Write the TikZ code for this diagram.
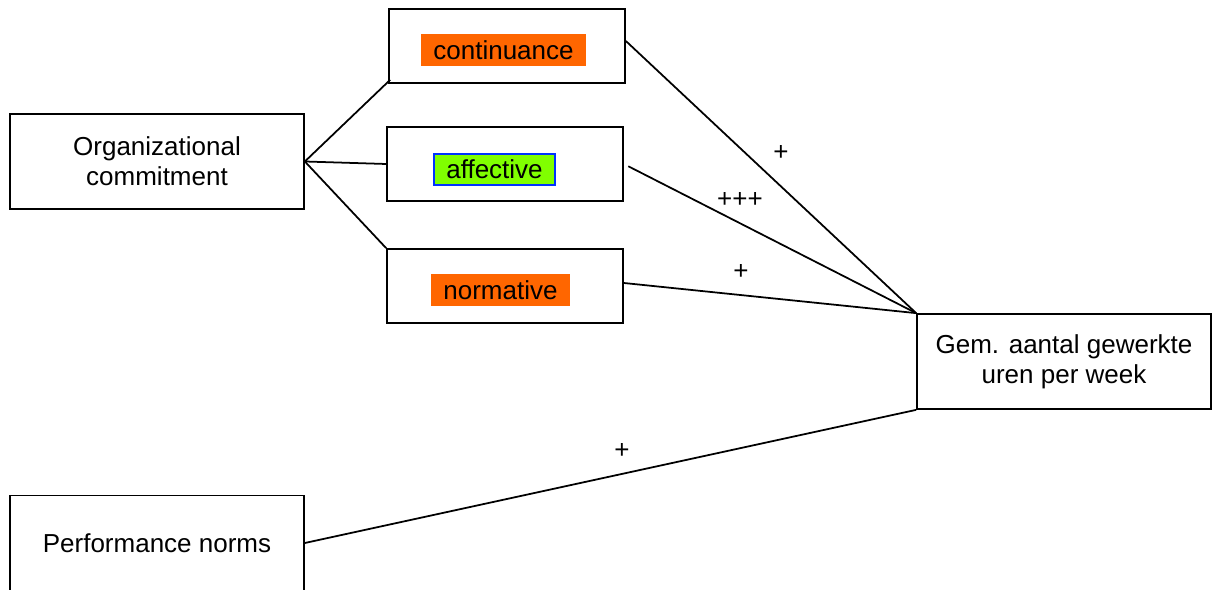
\documentclass[tikz,border=0pt]{standalone}
\usepackage{fontspec}
\setmainfont{Liberation Sans}
\definecolor{tagorange}{RGB}{255,102,0}
\definecolor{taggreen}{RGB}{128,255,0}
\definecolor{tagblue}{RGB}{0,51,255}
\begin{document}
\begin{tikzpicture}[x=0.02cm, y=-0.02cm,
    every node/.style={font=\fontsize{14.8}{17}\selectfont},
    bigbox/.style={draw, line width=1pt, minimum width=5.88cm, minimum height=1.9cm, align=center, inner sep=0pt},
    dimbox/.style={draw, line width=1pt, minimum width=4.72cm, minimum height=1.48cm, inner sep=0pt},
    tag/.style={inner sep=0pt, minimum height=0.64cm},
    link/.style={line width=1pt}]
    \useasboundingbox (0,0) rectangle (1214,590);

    % Boxes
    \node[bigbox] (org) at (157,161.5) {Organizational\\commitment};
    \node[bigbox] (perf) at (157,543) {Performance norms};
    \node[bigbox] (gem) at (1064,361.5) {Gem. aantal gewerkte\\uren per week};
    \node[dimbox] (cont) at (507,46) {};
    \node[dimbox] (aff) at (505,164) {};
    \node[dimbox] (nrm) at (505,286) {};

    % Labels inside the boxes
    \node[tag, fill=tagorange, minimum width=3.3cm] (conttag) at (503.5,50) {continuance};
    \node[tag, fill=taggreen, draw=tagblue, line width=1.1pt, minimum width=2.42cm, minimum height=0.62cm] (afftag) at (494.5,169.5) {affective};
    \node[tag, fill=tagorange, minimum width=2.78cm] (nrmtag) at (500.5,290.5) {normative};

    % Lines
    \coordinate (split) at (org.east);
    \draw[link] (split) -- ([shift={(2,-4)}]cont.south west);
    \draw[link] (split) -- (aff.west);
    \draw[link] (split) -- (nrm.north west);
    \draw[link] ([yshift=0.1cm]cont.east) -- (gem.north west);
    \draw[link, shorten <=1mm] (aff.east) -- (gem.north west);
    \draw[link] ([yshift=0.06cm]nrm.east) -- (gem.north west);
    \draw[link] (perf.east) -- (gem.south west);

    % Signs
    \node (s1) at (781,153) {+};
    \node (s2) at (740,200) {+++};
    \node (s3) at (741,272) {+};
    \node (s4) at (622,451) {+};
\end{tikzpicture}
\end{document}
